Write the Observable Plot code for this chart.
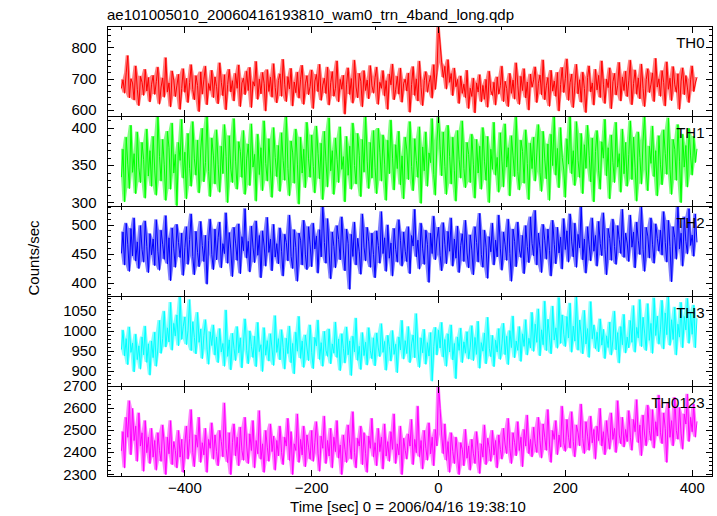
<!DOCTYPE html>
<html>
<head>
<meta charset="utf-8">
<script src="https://cdn.jsdelivr.net/npm/d3@7"></script>
<script src="https://cdn.jsdelivr.net/npm/@observablehq/plot@0.6"></script>
<style>
  html, body { margin: 0; padding: 0; background: #fff; }
  body { font-family: "Liberation Sans", Arial, Helvetica, sans-serif; color: #000; }
  #wrap { position: relative; width: 717px; height: 516px; overflow: hidden; }
  .pnl { position: absolute; left: 0; }
  .pnl svg { overflow: visible; }
  #title { position: absolute; left: 107px; top: 7px; font-size: 15px; line-height: 15px; white-space: nowrap; }
  #xlab { position: absolute; left: 408px; top: 499px; font-size: 15px; line-height: 15px; transform: translateX(-50%); white-space: nowrap; }
  #ylab { position: absolute; left: 33px; top: 258px; font-size: 15px; line-height: 15px; transform: translate(-50%, -50%) rotate(-90deg); white-space: nowrap; }
</style>
</head>
<body>
<div id="wrap">
  <div id="title">ae101005010_20060416193810_wam0_trn_4band_long.qdp</div>
  <div id="ylab">Counts/sec</div>
  <div id="xlab">Time [sec] 0 = 2006/04/16 19:38:10</div>
</div>
<script>
// ---- time sampling (seconds from 2006/04/16 19:38:10)
const t0 = -500;
const dt = 2.5;

// ---- light curves (counts/sec) (rows of 50 s)
const th0 = [
  672,698,655,720,775,640,701,688,633,742,668,615,709,690,648,731,662,705,627,684,
  712,651,693,738,620,675,704,642,768,659,688,611,726,697,644,681,715,603,670,733,
  658,702,625,689,746,667,634,711,680,596,723,652,699,741,618,686,664,728,641,707,
  676,621,752,690,647,714,602,683,731,659,695,630,718,671,745,612,688,703,650,725,
  664,737,609,692,678,756,635,700,653,721,687,598,730,661,706,642,749,673,624,696,
  717,645,763,682,628,708,669,734,614,691,657,722,639,700,744,619,685,711,650,677,
  729,606,694,715,660,747,632,681,703,654,738,617,689,724,645,671,758,627,699,668,
  712,588,684,736,651,702,623,760,675,640,718,693,611,727,664,697,637,743,679,655,
  706,738,619,690,671,727,646,695,603,716,682,748,634,668,709,652,735,626,687,700,
  662,719,594,683,740,648,701,630,757,673,615,696,724,658,689,711,639,746,667,720,
  875,812,752,705,741,668,762,690,718,647,735,676,699,622,710,655,684,641,728,606,
  671,645,703,592,688,659,714,627,680,636,699,610,725,663,648,690,617,707,652,679,
  741,628,693,670,612,718,655,697,636,752,681,619,709,664,733,640,691,601,716,674,
  698,739,625,687,713,650,761,634,679,705,613,728,662,694,645,721,598,683,737,657,
  703,764,632,690,716,609,681,747,653,698,626,722,670,593,705,742,659,688,617,731,
  666,712,641,758,684,622,700,673,736,605,692,718,649,681,753,630,707,664,725,644,
  695,760,618,686,729,652,704,637,748,671,612,699,733,657,684,720,628,766,675,701,
  645,727,690,614,755,668,703,631,740,682,658,717,603,694,736,650,711,672,625,698,
  742,660,688,705
];
const th1 = [
  335,372,301,388,352,319,404,341,366,312,395,347,327,381,358,306,399,336,370,322,
  389,344,310,417,362,329,385,351,303,396,374,318,407,340,365,296,381,357,412,333,
  368,305,393,346,322,409,359,337,384,313,371,400,328,354,419,342,308,387,363,325,
  398,351,314,376,339,405,362,300,390,345,327,413,356,318,382,369,334,397,311,360,
  379,323,406,348,365,302,392,338,374,316,410,353,329,386,344,307,401,361,335,377,
  315,394,357,330,416,346,309,383,367,326,399,352,298,388,340,372,320,408,359,334,
  391,349,313,403,366,332,380,304,396,355,321,414,343,370,311,387,358,327,402,345,
  362,301,389,337,376,318,407,350,325,393,364,308,385,341,418,356,319,381,333,397,
  347,312,400,368,329,391,352,303,384,339,411,360,317,378,346,396,324,363,305,388,
  371,331,409,349,316,386,357,334,402,299,375,343,395,322,367,354,413,338,310,383,
  418,372,336,395,349,311,404,362,325,388,343,302,397,358,333,410,346,320,381,365,
  327,392,351,306,385,340,376,318,401,355,330,389,300,372,345,408,337,361,314,394,
  356,321,406,348,374,309,390,363,335,415,342,317,384,369,326,398,353,304,380,346,
  388,329,367,405,341,315,396,359,332,379,303,392,350,416,337,373,320,401,361,344,
  307,386,352,420,339,370,323,409,357,334,393,312,378,346,404,364,328,387,301,369,
  397,343,318,382,360,412,336,374,305,391,354,327,408,348,366,314,399,339,381,322,
  365,410,331,388,347,302,395,361,325,383,417,344,316,376,353,403,335,370,309,390,
  351,324,398,366,338,414,345,311,385,372,330,405,356,300,392,348,377,321,400,363,
  337,389,354,372
];
const th2 = [
  452,488,431,503,466,420,494,447,512,438,471,425,499,458,436,507,463,418,485,449,
  476,430,509,455,422,491,467,441,516,433,478,404,495,459,427,501,470,444,486,413,
  461,497,432,475,519,446,414,489,453,428,506,465,437,482,398,473,510,449,423,493,
  440,479,505,426,468,451,521,434,487,457,411,496,469,439,502,416,480,456,528,443,
  472,419,498,462,435,507,448,482,409,490,464,429,513,453,476,421,501,445,468,433,
  495,455,412,484,470,438,517,446,425,492,461,403,486,474,431,508,450,423,497,466,
  428,503,459,481,417,492,445,536,470,434,511,452,407,488,463,426,499,475,440,514,
  457,421,493,468,389,484,446,505,431,477,454,415,519,462,438,496,471,427,486,449,
  409,490,465,434,523,451,478,420,500,443,469,412,494,458,436,509,473,429,488,455,
  437,497,416,482,464,527,445,474,424,503,459,432,491,467,401,486,451,515,440,476,
  496,448,421,504,467,433,489,455,512,429,476,443,498,418,465,485,437,508,452,426,
  483,457,414,497,470,436,520,449,427,491,462,408,480,454,503,431,474,445,517,459,
  422,488,466,439,510,451,403,493,472,428,505,457,444,482,416,499,463,435,514,468,
  447,525,431,486,460,418,501,474,441,493,456,412,508,467,433,496,452,479,424,511,
  458,490,436,519,471,445,503,427,484,461,533,440,476,417,497,466,438,512,455,482,
  429,506,468,447,521,458,414,494,477,439,510,463,432,499,475,451,527,444,486,469,
  437,517,462,488,426,505,473,449,531,458,420,496,481,443,512,466,434,502,477,455,
  491,448,523,470,436,508,463,402,497,478,441,535,459,486,429,514,472,450,528,465,
  483,446,519,471
];
const th3 = [
  955,1002,938,981,916,1010,947,970,898,992,929,963,905,985,941,1012,922,968,890,975,
  934,997,912,958,1026,944,981,1049,960,1008,973,1071,952,1019,988,1040,963,1084,979,1012,
  1035,966,1002,1078,951,1023,984,943,1046,972,1005,931,989,1028,955,917,998,964,1015,940,
  985,921,1006,948,969,912,1052,937,978,903,994,957,926,1011,946,983,908,970,1030,952,
  918,1000,961,934,987,911,1021,949,966,899,1008,940,976,925,993,955,914,1038,947,981,
  928,1003,959,905,982,944,1012,921,969,893,997,950,1036,932,975,909,990,958,926,1015,
  947,906,984,963,1027,929,971,912,999,952,937,1005,918,968,945,1022,934,980,901,993,
  956,920,1010,941,975,889,987,948,1032,927,962,904,996,939,972,915,1008,951,931,983,
  913,995,958,936,1018,947,974,902,989,961,925,1001,942,967,896,985,953,1026,930,976,
  944,1011,921,968,990,933,1043,955,909,983,946,1004,917,971,938,996,875,962,1009,940,
  1002,958,1021,935,979,912,993,948,1015,928,969,881,985,952,1007,921,973,945,998,930,
  960,1013,926,984,942,1024,907,971,950,995,918,1034,957,936,989,911,977,948,1006,929,
  968,1019,941,987,916,1001,959,1037,933,975,952,1011,924,993,962,1028,940,982,958,1046,
  949,1017,972,1055,938,1003,966,1074,951,1029,985,943,1062,978,1008,957,1083,969,1040,992,
  961,1036,983,1069,947,1012,975,1085,952,1027,990,943,1051,968,1006,934,1073,981,1015,956,
  997,948,1030,965,1004,931,988,959,1022,940,978,1049,953,996,920,1011,966,1041,945,985,
  958,1026,972,1063,947,1009,983,1078,961,1034,995,951,1068,977,1019,944,1082,989,1037,967,
  1003,1076,955,1045,991,1086,964,1028,979,1059,940,1017,985,1071,958,1036,1003,1081,969,1047,
  992,1064,958,1031
];
const th0123 = [
  2410,2495,2330,2560,2470,2635,2390,2600,2455,2520,2360,2580,2430,2490,2315,2545,2400,2470,2350,2510,
  2380,2455,2320,2490,2410,2360,2525,2435,2300,2470,2395,2545,2345,2450,2410,2330,2500,2380,2460,2310,
  2440,2520,2370,2465,2595,2400,2335,2480,2425,2560,2355,2445,2390,2510,2310,2460,2420,2535,2370,2480,
  2405,2340,2500,2450,2380,2625,2420,2355,2490,2300,2445,2530,2385,2470,2340,2515,2410,2365,2560,2430,
  2350,2485,2410,2545,2330,2455,2395,2590,2370,2440,2310,2500,2425,2360,2530,2405,2475,2320,2455,2385,
  2520,2400,2345,2470,2430,2555,2365,2495,2300,2440,2410,2575,2355,2460,2390,2520,2335,2480,2425,2370,
  2500,2360,2445,2540,2395,2315,2475,2420,2565,2350,2455,2385,2510,2330,2470,2405,2545,2375,2435,2300,
  2480,2415,2355,2525,2440,2370,2585,2400,2330,2465,2430,2520,2345,2490,2395,2310,2475,2420,2555,2380,
  2445,2340,2510,2405,2470,2325,2530,2385,2450,2360,2495,2415,2575,2350,2440,2390,2520,2300,2465,2410,
  2370,2485,2430,2550,2345,2460,2400,2610,2380,2455,2325,2500,2420,2365,2535,2395,2470,2340,2505,2430,
  2715,2600,2480,2395,2530,2365,2450,2310,2490,2405,2350,2470,2385,2300,2445,2415,2340,2505,2375,2430,
  2320,2460,2395,2350,2495,2410,2305,2440,2380,2525,2345,2465,2420,2360,2500,2390,2455,2330,2480,2415,
  2370,2510,2435,2395,2555,2420,2350,2490,2445,2385,2540,2410,2470,2335,2505,2430,2570,2395,2460,2380,
  2515,2440,2400,2560,2455,2375,2530,2470,2410,2595,2435,2355,2500,2460,2545,2390,2480,2425,2610,2445,
  2405,2550,2470,2420,2585,2450,2380,2525,2490,2430,2620,2465,2395,2540,2475,2410,2565,2445,2505,2370,
  2520,2455,2600,2430,2495,2390,2545,2470,2415,2580,2460,2510,2400,2635,2480,2440,2560,2425,2505,2450,
  2590,2470,2410,2550,2495,2640,2445,2525,2385,2570,2480,2430,2615,2500,2455,2595,2420,2540,2475,2660,
  2490,2440,2580,2510,2355,2625,2470,2545,2430,2650,2500,2460,2605,2485,2415,2575,2530,2665,2450,2560,
  2495,2620,2470,2540
];

// ---- panel labels, colours and tick labels
const labels = ["TH0", "TH1", "TH2", "TH3", "TH0123"];
const colors = ["#ff0000", "#00ff00", "#0000ff", "#00ffff", "#ff00ff"];
const yDomains = [[581, 868], [295, 416], [377, 532], [862, 1086], [2292, 2700]];
const yMajor = [[600, 700, 800], [300, 350, 400], [400, 450, 500], [900, 950, 1000, 1050], [2300, 2400, 2500, 2600, 2700]];
const yMinorStep = [20, 10, 10, 10, 20];
const xDomain = [-522, 432];
const xMajor = [-400, -200, 0, 200, 400];
const xMinor = [-500, -300, -100, 100, 300];

const series = [th0, th1, th2, th3, th0123];
const fmt = d3.format("d");

const tickShape = { draw(ctx, l) { ctx.moveTo(0, 0); ctx.lineTo(0, -l); } };
function ticks(data, anchor, len) {
  const rot = { left: 90, right: -90, top: 180, bottom: 0 }[anchor];
  const opts = { frameAnchor: anchor, rotate: rot, length: len, anchor: "start", shape: tickShape,
                 stroke: "#000", strokeWidth: 1, shapeRendering: "crispEdges" };
  if (anchor === "left" || anchor === "right") opts.y = d => d; else opts.x = d => d;
  return Plot.vector(data, opts);
}

const wrap = document.getElementById("wrap");
const panelH = 90;
const top0 = 26;

series.forEach((vals, i) => {
  const last = i === series.length - 1;
  // each sample with the min/max of its immediate neighbours (dense-scribble envelope)
  const data = vals.map((v, k) => {
    const nb = vals.slice(Math.max(0, k - 1), k + 2);
    return { t: t0 + k * dt, v, lo: d3.min(nb), hi: d3.max(nb) };
  });
  const [lo, hi] = yDomains[i];
  const step = yMinorStep[i];
  const minor = d3.range(Math.ceil(lo / step) * step, hi, step).filter(v => !yMajor[i].includes(v));
  const marks = [
    Plot.areaY(data, { x: "t", y1: "lo", y2: "hi", fill: colors[i], fillOpacity: 0.5, clip: true }),
    Plot.lineY(data, { x: "t", y: "v", stroke: colors[i], strokeWidth: 1, clip: true }),
    ticks(yMajor[i], "left", 6),
    ticks(yMajor[i], "right", 6),
    ticks(minor, "left", 3.5),
    ticks(minor, "right", 3.5),
    ticks(xMajor, "top", 6),
    ticks(xMajor, "bottom", 6),
    ticks(xMinor, "top", 3.5),
    ticks(xMinor, "bottom", 3.5),
    Plot.frame({ stroke: "#000", strokeWidth: 1, shapeRendering: "crispEdges" }),
    Plot.axisY(yMajor[i], { anchor: "left", tickSize: 0, tickPadding: 11, label: null, fontSize: 15, fill: "#000", tickFormat: fmt }),
    Plot.text([labels[i]], { frameAnchor: "top-right", dx: -8, dy: 11, fontSize: 15, fill: "#000", textAnchor: "end" })
  ];
  if (last) {
    marks.push(Plot.axisX(xMajor, { anchor: "bottom", tickSize: 0, tickPadding: 6, label: null, fontSize: 15, fill: "#000", tickFormat: fmt }));
  }
  const chart = Plot.plot({
    width: 717,
    height: last ? panelH + 40 : panelH,
    marginLeft: 107,
    marginRight: 5,
    marginTop: 0,
    marginBottom: last ? 40 : 0,
    x: { domain: xDomain, axis: null },
    y: { domain: yDomains[i], axis: null },
    style: { fontFamily: "'Liberation Sans', Arial, Helvetica, sans-serif", fontSize: "15px", color: "#000", background: "transparent", overflow: "visible" },
    marks
  });
  const holder = document.createElement("div");
  holder.className = "pnl";
  holder.style.top = (top0 + i * panelH) + "px";
  holder.appendChild(chart);
  wrap.appendChild(holder);
});
</script>
</body>
</html>
